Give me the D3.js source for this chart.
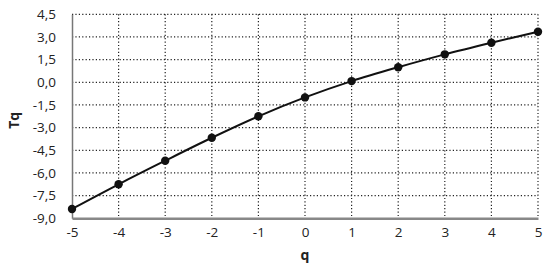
<!DOCTYPE html>
<html>
<head>
<meta charset="utf-8">
<script src="https://cdn.jsdelivr.net/npm/d3@7"></script>
<style>
  body { margin: 0; background: #fff; }
  svg text { font-family: "Open Sans", "Lato", sans-serif; fill: #222; }
</style>
</head>
<body>
<div id="mainDiv"></div>
<script>
'use strict';

// dados
var qValues = [-5, -4, -3, -2, -1, 0, 1, 2, 3, 4, 5];
var tqValues = [-8.38, -6.75, -5.19, -3.67, -2.25, -1.0, 0.08, 1.0, 1.85, 2.62, 3.35];
var yTicks = [-9, -7.5, -6, -4.5, -3, -1.5, 0, 1.5, 3, 4.5];
var xTicks = [-5, -4, -3, -2, -1, 0, 1, 2, 3, 4, 5];

var chart = {};
chart.w = 550;
chart.h = 269;
chart.margins = {top: 14.3, bottom: 50.7, left: 72, right: 12};

chart.run = function()
{
    var m = chart.margins;
    var iw = chart.w - m.left - m.right;
    var ih = chart.h - m.top - m.bottom;

    var svg = d3.select('#mainDiv').append('svg')
        .attr('width', chart.w)
        .attr('height', chart.h);

    var g = svg.append('g')
        .attr('transform', 'translate(' + m.left + ',' + m.top + ')');

    var xScale = d3.scaleLinear().domain([-5, 5]).range([0, iw]);
    var yScale = d3.scaleLinear().domain([-9, 4.5]).range([ih, 0]);
    var fmt = function(d) { return d3.format('.1f')(d).replace('.', ',').replace('−', '-'); };

    // grade pontilhada
    g.append('g').selectAll('line')
        .data(yTicks.filter(function(d) { return d > -9; }))
        .enter().append('line')
        .attr('x1', 0).attr('x2', iw)
        .attr('y1', function(d) { return yScale(d); })
        .attr('y2', function(d) { return yScale(d); })
        .attr('stroke', '#222').attr('stroke-width', 1.2)
        .attr('stroke-dasharray', '1.2,2.2');

    g.append('g').selectAll('line')
        .data(xTicks.filter(function(d) { return d > -5; }))
        .enter().append('line')
        .attr('y1', 0).attr('y2', ih)
        .attr('x1', function(d) { return xScale(d); })
        .attr('x2', function(d) { return xScale(d); })
        .attr('stroke', '#222').attr('stroke-width', 1.2)
        .attr('stroke-dasharray', '1.2,2.2');

    // eixos
    var yAxis = d3.axisLeft(yScale).tickValues(yTicks).tickFormat(fmt).tickSize(0).tickPadding(16);
    var yg = g.append('g').call(yAxis);
    yg.select('.domain').attr('stroke', '#777').attr('stroke-width', 1.5);
    yg.selectAll('text').style('font-size', '13.5px').attr('fill', '#222');

    var xAxis = d3.axisBottom(xScale).tickValues(xTicks).tickFormat(d3.format('d')).tickSize(0).tickPadding(9);
    var xg = g.append('g').attr('transform', 'translate(0,' + ih + ')').call(xAxis);
    xg.select('.domain').attr('stroke', '#888').attr('stroke-width', 2.5);
    xg.selectAll('text').style('font-size', '13.5px').attr('fill', '#222')
        .text(function(d) { return String(d).replace('−', '-'); });

    // curva
    var data = qValues.map(function(q, i) { return {x: q, y: tqValues[i]}; });
    g.append('path')
        .datum(data)
        .attr('fill', 'none')
        .attr('stroke', '#111')
        .attr('stroke-width', 2)
        .attr('d', d3.line()
            .curve(d3.curveCatmullRom)
            .x(function(d) { return xScale(d.x); })
            .y(function(d) { return yScale(d.y); }));

    g.selectAll('circle.pt')
        .data(data)
        .enter().append('circle')
        .attr('class', 'pt')
        .attr('cx', function(d) { return xScale(d.x); })
        .attr('cy', function(d) { return yScale(d.y); })
        .attr('r', 4.2)
        .attr('fill', '#111');

    // títulos
    svg.append('text')
        .attr('x', m.left + iw / 2)
        .attr('y', 260)
        .attr('text-anchor', 'middle')
        .style('font-size', '14px').style('font-weight', 'bold')
        .text('q');

    svg.append('text')
        .attr('transform', 'translate(19,' + (m.top + ih / 2 + 4) + ') rotate(-90)')
        .attr('text-anchor', 'middle')
        .style('font-size', '14px').style('font-weight', 'bold')
        .text('Tq');
};

window.onload = chart.run;
</script>
</body>
</html>
